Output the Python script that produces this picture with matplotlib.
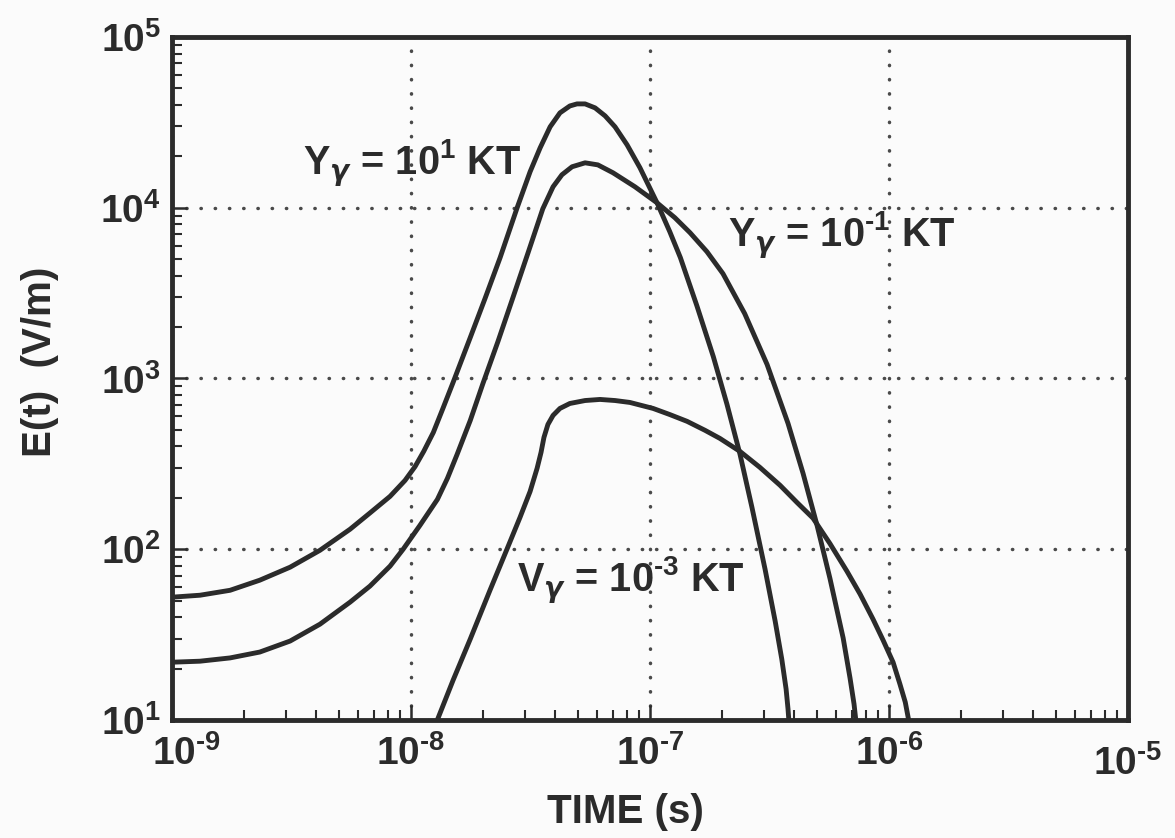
import matplotlib
matplotlib.use("Agg")
import matplotlib.pyplot as plt
import matplotlib.transforms as mtransforms
from matplotlib.ticker import LogLocator, FixedLocator, FixedFormatter, NullFormatter

# ---------------- data ----------------
# Y_gamma = 10^1 KT
t_10kt = [1.00e-9, 1.31e-9, 1.75e-9, 2.33e-9, 3.12e-9, 4.16e-9, 5.56e-9, 6.73e-9,
          8.17e-9, 9.44e-9, 1.04e-8, 1.13e-8, 1.24e-8, 1.36e-8, 1.50e-8, 1.77e-8,
          2.04e-8, 2.36e-8, 2.78e-8, 3.15e-8, 3.47e-8, 3.82e-8, 4.20e-8, 4.62e-8,
          4.95e-8, 5.35e-8, 5.89e-8, 6.49e-8, 7.14e-8, 8.02e-8, 9.08e-8, 1.07e-7,
          1.21e-7, 1.34e-7, 1.57e-7, 1.84e-7, 2.10e-7, 2.38e-7, 2.67e-7, 3.03e-7,
          3.34e-7, 3.56e-7, 3.71e-7, 3.78e-7, 3.82e-7]
e_10kt = [52.4, 53.8, 57.5, 65.9, 78.5, 98.6, 131, 163,
          204, 253, 305, 374, 483, 668, 948, 1738,
          2938, 5105, 10000, 16250, 22440, 29780, 35950, 39460,
          40570, 40570, 38460, 34510, 29780, 23350, 17140, 10690,
          7240, 5105, 2673, 1345, 705, 360, 176, 76.4,
          37.9, 22.7, 15.2, 11.6, 9.48]

# Y_gamma = 10^-1 KT
t_01kt = [1.00e-9, 1.31e-9, 1.75e-9, 2.33e-9, 3.12e-9, 4.16e-9, 5.56e-9, 6.73e-9,
          8.17e-9, 9.27e-9, 1.09e-8, 1.29e-8, 1.42e-8, 1.56e-8, 1.77e-8, 2.00e-8,
          2.31e-8, 2.67e-8, 3.09e-8, 3.56e-8, 3.93e-8, 4.28e-8, 4.72e-8, 5.35e-8,
          6.05e-8, 7.00e-8, 8.65e-8, 1.07e-7, 1.27e-7, 1.47e-7, 1.73e-7, 2.02e-7,
          2.49e-7, 3.09e-7, 3.78e-7, 4.37e-7, 5.00e-7, 5.66e-7, 6.43e-7, 6.87e-7,
          7.14e-7, 7.28e-7]
e_01kt = [21.8, 22.1, 23.1, 25.0, 29.0, 36.4, 49.0, 60.8,
          79.6, 100, 138, 196, 260, 360, 568, 935,
          1644, 2979, 5458, 9863, 13270, 15600, 17380, 18330,
          17830, 16030, 13270, 10690, 8750, 7145, 5533, 4111,
          2399, 1208, 546, 278, 138, 67.6, 30.2, 17.6,
          12.4, 9.7]

# V_gamma = 10^-3 KT
t_0001kt = [1.27e-8, 1.50e-8, 1.77e-8, 2.14e-8, 2.52e-8, 2.86e-8, 3.15e-8, 3.37e-8,
            3.50e-8, 3.60e-8, 3.74e-8, 3.93e-8, 4.20e-8, 4.62e-8, 5.35e-8, 6.18e-8,
            7.14e-8, 8.24e-8, 1.03e-7, 1.21e-7, 1.43e-7, 1.70e-7, 1.96e-7, 2.38e-7,
            2.88e-7, 3.50e-7, 4.12e-7, 4.81e-7, 5.66e-7, 6.67e-7, 7.57e-7, 8.57e-7,
            9.44e-7, 1.04e-6, 1.11e-6, 1.17e-6, 1.21e-6, 1.22e-6]
e_0001kt = [9.5, 17.1, 29.8, 57.5, 100, 154, 218, 298,
            369, 452, 538, 608, 668, 714, 743, 754,
            743, 724, 668, 615, 561, 497, 446, 374,
            302, 237, 188, 152, 108, 74.3, 54.6, 39.0,
            29.4, 21.8, 16.3, 12.7, 9.9, 9.3]

x_ticks = [1e-9, 1e-8, 1e-7, 1e-6, 1e-5]
x_ticklabels = ['10$^{\\text{-}9}$', '10$^{\\text{-}8}$', '10$^{\\text{-}7}$',
                '10$^{\\text{-}6}$', '10$^{\\text{-}5}$']
y_ticks = [1e1, 1e2, 1e3, 1e4, 1e5]
y_ticklabels = ['10$^{1}$', '10$^{2}$', '10$^{3}$', '10$^{4}$', '10$^{5}$']

curve_labels = ['Y$_{\\mathit{\\gamma}}$ = 10$^{1}$ KT',
                'Y$_{\\mathit{\\gamma}}$ = 10$^{\\text{-}1}$ KT',
                'V$_{\\mathit{\\gamma}}$ = 10$^{\\text{-}3}$ KT']
label_pos = [(3.53e-9, 15600), (2.12e-7, 5920), (2.78e-8, 56.7)]

# ---------------- style ----------------
ink = '#2b2b2b'
plt.rcParams['font.family'] = ['Liberation Sans', 'DejaVu Sans']
plt.rcParams['font.weight'] = 'bold'
plt.rcParams['mathtext.fontset'] = 'custom'
plt.rcParams['mathtext.rm'] = 'Liberation Sans:bold'
plt.rcParams['mathtext.it'] = 'DejaVu Sans:italic'
plt.rcParams['mathtext.bf'] = 'Liberation Sans:bold'
plt.rcParams['mathtext.default'] = 'rm'

fig = plt.figure(figsize=(11.75, 8.38), dpi=100, facecolor='#fbfbfb')
ax = fig.add_axes([172/1175, 1 - 720/838, (1128-172)/1175, (720-37)/838])
ax.set_facecolor('#fbfbfb')
ax.set_xscale('log')
ax.set_yscale('log')
ax.set_xlim(1e-9, 1e-5)
ax.set_ylim(1e1, 1e5)

for t, e in [(t_10kt, e_10kt), (t_01kt, e_01kt), (t_0001kt, e_0001kt)]:
    ax.plot(t, e, color=ink, lw=3.5, solid_capstyle='round', solid_joinstyle='round', zorder=3)

ax.xaxis.set_major_locator(FixedLocator(x_ticks))
ax.xaxis.set_major_formatter(FixedFormatter(x_ticklabels))
ax.yaxis.set_major_locator(FixedLocator(y_ticks))
ax.yaxis.set_major_formatter(FixedFormatter(y_ticklabels))
ax.xaxis.set_minor_locator(LogLocator(base=10, subs=range(2, 10), numticks=20))
ax.yaxis.set_minor_locator(LogLocator(base=10, subs=range(2, 10), numticks=20))
ax.xaxis.set_minor_formatter(NullFormatter())
ax.yaxis.set_minor_formatter(NullFormatter())

ax.tick_params(which='both', direction='in', color=ink, labelcolor=ink, labelsize=28,
               top=False, right=False)
ax.tick_params(which='major', length=11, width=1.8)
ax.tick_params(which='minor', length=7, width=1.5)
ax.tick_params(axis='x', which='major', pad=11)
ax.tick_params(axis='y', which='major', pad=8)

ax.grid(True, which='major', color='#4a4a4a', linestyle=(0, (0.1, 4.0)), lw=2.5,
        dash_capstyle='round')
for s in ax.spines.values():
    s.set_linewidth(3.5)
    s.set_color(ink)

ax.set_xlabel('TIME (s)', fontsize=29, fontweight='bold', color=ink)
ax.set_ylabel('E(t)  (V/m)', fontsize=29, fontweight='bold', color=ink)
ax.xaxis.set_label_coords((625 - 172) / 956, (720 - 812) / 683)
ax.xaxis.label.set_va('center')
ax.yaxis.set_label_coords((40 - 172) / 956, (720 - 362) / 683)
ax.yaxis.label.set_va('center')

for txt, (xx, yy) in zip(curve_labels, label_pos):
    ax.text(xx, yy, txt, fontsize=28.5, fontweight='bold', color=ink,
            ha='left', va='baseline', zorder=4)

fig.canvas.draw()
xlabels = ax.xaxis.get_majorticklabels()
xlabels[0].set_transform(xlabels[0].get_transform() +
                         mtransforms.ScaledTranslation(0.14, 0, fig.dpi_scale_trans))
xlabels[-1].set_transform(xlabels[-1].get_transform() +
                          mtransforms.ScaledTranslation(0, -0.10, fig.dpi_scale_trans))

fig.savefig('out.png', dpi=100, facecolor=fig.get_facecolor())
